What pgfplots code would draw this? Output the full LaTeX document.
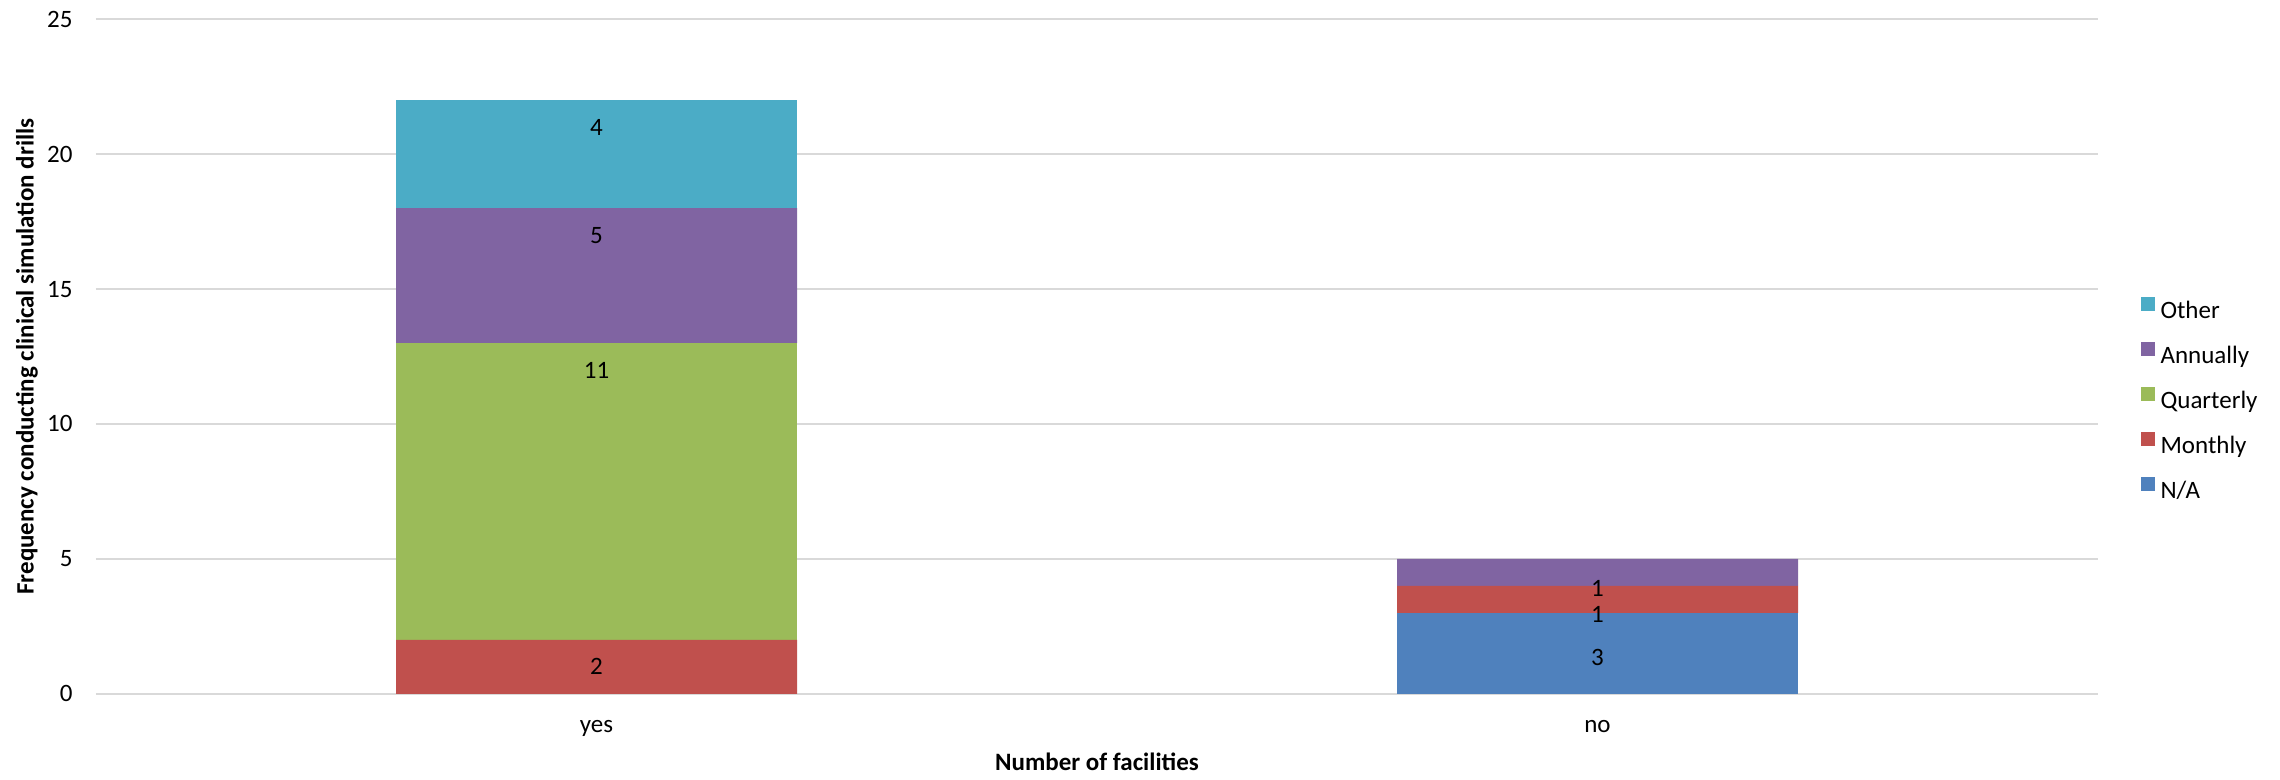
\documentclass[border=0pt]{standalone}
\usepackage{fontspec}
\setmainfont{Carlito}
\usepackage{pgfplots}
\pgfplotsset{compat=1.18}
\definecolor{cNA}{HTML}{4F81BD}
\definecolor{cMo}{HTML}{C0504D}
\definecolor{cQu}{HTML}{9BBB59}
\definecolor{cAn}{HTML}{8064A2}
\definecolor{cOt}{HTML}{4BACC6}
\definecolor{cGrid}{HTML}{D9D9D9}
\newcommand{\fs}{\fontsize{10}{12}\selectfont}
\pgfplotsset{
  base/.style={
    scale only axis, width=800.8pt, height=269.8pt,
    xmin=-0.5, xmax=1.5, ymin=0, ymax=25,
    axis line style={draw=none},
    /pgf/number format/assume math mode=true,
  }
}
\begin{document}
\begin{tikzpicture}
\path[use as bounding box] (-38.4pt,-34.1pt) rectangle (873.6pt,277.5pt);
\begin{axis}[base,
  ybar stacked, bar width=160.4pt,
  xtick={0,1}, xticklabels={yes,no},
  ytick={0,5,10,15,20,25},
  major tick length=0pt,
  ymajorgrids, grid style={cGrid, line width=0.75pt},
  tick label style={font=\fs},
  xticklabel style={anchor=base, yshift=-15.6pt},
  yticklabel style={anchor=east, inner sep=0pt, xshift=-9.2pt},
  xlabel={\textbf{Number of facilities}},
  ylabel={\textbf{Frequency conducting clinical simulation drills}},
  every axis x label/.style={at={(axis description cs:0.5,-0.1008)}, anchor=center, font=\fs},
  every axis y label/.style={at={(axis description cs:-0.03447,0.5)}, rotate=90, anchor=center, font=\fs},
  reverse legend,
  legend cell align=left,
  legend style={draw=none, fill=none, inner sep=0pt, at={(axis description cs:1.021,0.434)}, anchor=west,
    font=\fs, row sep=7pt,
    nodes={inner sep=0pt, text height=7.5pt, text depth=2.5pt},
    /tikz/every odd column/.append style={column sep=2.4pt}},
  legend image code/.code={\fill[#1] (0pt,0.4pt) rectangle (5.6pt,6pt);},
]
\addplot[fill=cNA, draw=none] coordinates {(0,0) (1,3)};
\addplot[fill=cMo, draw=none] coordinates {(0,2) (1,1)};
\addplot[fill=cQu, draw=none] coordinates {(0,11) (1,0)};
\addplot[fill=cAn, draw=none] coordinates {(0,5) (1,1)};
\addplot[fill=cOt, draw=none] coordinates {(0,4) (1,0)};
\legend{N/A,Monthly,Quarterly,Annually,Other}
\end{axis}
\begin{axis}[base, hide axis]
\addplot[draw=none, mark=none, nodes near coords, point meta=explicit symbolic,
  nodes near coords style={anchor=center, font=\fs, text=black}]
  coordinates {(0,1)[2] (0,12)[11] (0,17)[5] (0,21)[4] (1,1.36)[3] (1,2.95)[1] (1,3.92)[1]};
\end{axis}
\end{tikzpicture}
\end{document}
